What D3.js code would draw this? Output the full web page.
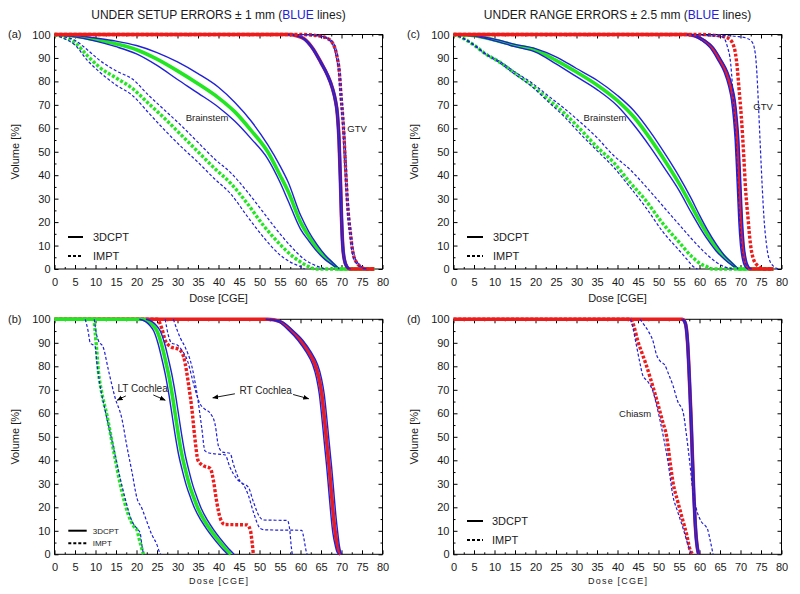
<!DOCTYPE html>
<html><head><meta charset="utf-8">
<script src="https://cdn.jsdelivr.net/npm/d3@7"></script>
<style>
body{margin:0;background:#fff}
svg{display:block;font-family:"Liberation Sans",Arial,Helvetica,sans-serif}
</style></head><body>
<svg id="chart" width="800" height="594"></svg>
<script>
// ---------- tick values ----------
const xTickValues = [0,5,10,15,20,25,30,35,40,45,50,55,60,65,70,75,80];
const yTickValues = [0,10,20,30,40,50,60,70,80,90,100];

// ---------- Panel (a): setup errors, Brainstem & GTV ----------
const a_gtv3d_nom = [[0,100],[57,100],[59,99.5],[61,98],[63,94],[65,88],[66.5,83],[67.8,77],[68.5,72],[69,66],[69.4,55],[69.7,40],[70,22],[70.3,10],[70.7,4],[71.3,1],[72,0],[78,0]];
const a_gtv3d_lo = [[56.8,100],[58.8,99.5],[60.8,98],[62.8,94],[64.8,88],[66.3,83],[67.6,77],[68.3,72],[68.8,66],[69.2,55],[69.5,40],[69.8,22],[70.1,10],[70.5,4],[71.1,1],[71.8,0]];
const a_gtv3d_hi = [[57.2,100],[59.2,99.5],[61.2,98],[63.2,94],[65.2,88],[66.7,83],[68,77],[68.7,72],[69.2,66],[69.6,55],[69.9,40],[70.2,22],[70.5,10],[70.9,4],[71.5,1],[72.2,0]];
const a_gtvimpt_nom = [[0,100],[60,100],[64,99.5],[66.5,98.4],[68.1,95.5],[68.9,90.6],[69.5,83.5],[69.9,73.5],[70.3,65],[70.6,57],[71,43],[71.4,30],[71.8,21],[72.2,15],[72.6,9],[73,5.4],[73.8,2.5],[74.7,1],[75.9,0],[78,0]];
const a_gtvimpt_lo = [[59.8,100],[63.8,99.5],[66.3,98.4],[67.9,95.5],[68.7,90.6],[69.3,83.5],[69.7,73.5],[70.1,65],[70.4,57],[70.8,43],[71.2,30],[71.6,21],[72,15],[72.4,9],[72.8,5.4],[73.6,2.5],[74.5,1],[75.7,0]];
const a_gtvimpt_hi = [[60.2,100],[64.2,99.5],[66.7,98.4],[68.3,95.5],[69.1,90.6],[69.7,83.5],[70.1,73.5],[70.5,65],[70.8,57],[71.2,43],[71.6,30],[72,21],[72.4,15],[72.8,9],[73.2,5.4],[74,2.5],[74.9,1],[76.1,0]];
const a_bs3d_nom = [[0,100],[5,99.3],[10,97.8],[15,96],[20,93.5],[25,89.5],[30,84.5],[35,79],[40,73],[44,67],[48,59],[52,50],[55,40],[57,33],[60,20],[62,14],[64,9],[66,5],[68,2],[69.3,0],[78,0]];
const a_bs3d_hi = [[0,100],[5,99.6],[10,98.5],[15,97.2],[20,95.3],[25,92.3],[30,88.3],[35,83.3],[40,77.5],[44,71],[48,63],[52,53],[55,44],[57,37],[60,23],[62,16],[64,10.5],[66,6],[68,2.5],[69.5,0]];
const a_bs3d_lo = [[0,100],[5,99],[10,97.2],[15,94.8],[20,91.7],[25,86.8],[30,80.8],[35,75],[40,69],[44,63],[48,55.5],[52,47],[55,37],[57,29],[60,17],[62,12],[64,7.5],[66,4],[68,1.5],[69.2,0]];
const a_bsimpt_nom = [[0,100],[2,99],[5,96.5],[8,91],[11,86],[15,81.5],[19,77],[23,70.5],[27,64],[31,57],[35,50],[39,43],[43,36.5],[47,28],[51,18.5],[55,10.5],[58,5.5],[60,3],[62,1],[63.5,0],[78,0]];
const a_bsimpt_hi = [[0,100],[2,99.3],[5,97.5],[8,93.5],[11,89],[15,84.5],[19,81],[23,74],[27,67.5],[31,61],[35,54],[39,47],[43,41],[47,33],[51,24],[55,15],[58,9],[61,4],[63,2],[66,0]];
const a_bsimpt_lo = [[0,100],[2,98.5],[5,95.5],[8,89],[11,84],[15,78.5],[19,74],[23,66.5],[27,59],[31,52],[35,45.5],[39,38.5],[43,32],[47,22.5],[51,13.5],[55,6],[58,2.5],[60,1],[61,0]];

// ---------- Panel (c): range errors, Brainstem & GTV ----------
const c_gtv3d_nom = [[0,100],[57,100],[59,99.3],[61,97.5],[63,94.5],[65,89],[66.5,84],[67.6,78],[68.3,72],[68.8,64],[69.2,55],[69.5,44],[69.8,32],[70.1,20],[70.5,10],[71,4],[71.6,1],[72.3,0],[78,0]];
const c_gtv3d_lo = [[56.5,100],[58.5,99.3],[60.5,97.5],[62.5,94.5],[64.5,89],[66,84],[67.1,78],[67.8,72],[68.3,64],[68.7,55],[69,44],[69.3,32],[69.6,20],[70,10],[70.5,4],[71.1,1],[71.8,0]];
const c_gtv3d_hi = [[57.4,100],[59.4,99.3],[61.4,97.5],[63.4,94.5],[65.4,89],[66.9,84],[68,78],[68.7,72],[69.2,64],[69.6,55],[69.9,44],[70.2,32],[70.5,20],[70.9,10],[71.4,4],[72,1],[72.7,0]];
const c_gtvimpt_nom = [[0,100],[60,100],[64,99.6],[67.1,98.3],[68.4,94.8],[69.2,86],[69.6,77.7],[70.2,65],[70.8,48],[71.2,35],[71.8,22.4],[72.4,11],[73.2,4],[74.4,1.1],[75.6,0],[78,0]];
const c_gtvimpt_lo = [[58,100],[62,99.5],[65.6,99],[66.8,94.8],[67.6,87.7],[68,79],[68.4,67.8],[68.9,53.6],[69.3,38],[69.7,23.8],[70.2,11],[70.9,4],[72.1,0.4],[72.9,0]];
const c_gtvimpt_hi = [[62,100],[66,99.6],[69,99.2],[71.2,98.6],[72.8,96.9],[73.6,92],[74,83.4],[74.4,69.2],[74.8,53.6],[75.3,35],[75.7,22.4],[76.3,11],[76.9,4.7],[78.1,1.1],[79.3,0]];
const c_bs3d_nom = [[0,100],[5,99.5],[10,97.7],[15,95.3],[20,93.3],[25,89],[30,84],[35,78.5],[40,71.8],[44,64.8],[48,55.5],[52,45],[55,36.5],[58,27],[60,20.5],[62,14.5],[64,9.3],[66,5.2],[68,2],[69.4,0],[78,0]];
const c_bs3d_hi = [[0,100],[5,99.6],[10,98],[15,95.8],[20,94],[25,90.5],[30,85.5],[35,80.5],[40,74],[44,67.5],[48,58.5],[52,48],[55,39.5],[58,30],[60,23],[62,16.5],[64,10.8],[66,6],[68,2.5],[69.5,0]];
const c_bs3d_lo = [[0,100],[5,99.3],[10,97.3],[15,94.8],[20,92.5],[25,87.5],[30,82],[35,76.5],[40,69.5],[44,61.4],[48,52],[52,41.6],[55,33.5],[58,24],[60,18],[62,12.5],[64,7.8],[66,4.3],[68,1.5],[69.3,0]];
const c_bsimpt_nom = [[0,100],[2,98.7],[5,95.5],[8,91.5],[11,88.5],[15,83.5],[19,78.5],[23,72.5],[27,66.5],[31,59.5],[35,52],[39,45.5],[43,37],[47,29],[51,19.5],[55,11.5],[58,5.5],[60,2.5],[62,0.8],[63,0],[78,0]];
const c_bsimpt_hi = [[0,100],[2,98.8],[5,95.7],[8,91.7],[11,88.8],[15,84],[19,79.5],[23,74],[27,68.5],[31,62.5],[35,56],[39,48.5],[43,42.5],[47,35],[51,27],[55,19],[58,13],[61,7.5],[64,3],[66,1],[68,0]];
const c_bsimpt_lo = [[0,100],[2,98.6],[5,95.3],[8,91.3],[11,88.2],[15,83],[19,78],[23,71.5],[27,65],[31,57.5],[35,50.5],[39,43.5],[43,35],[47,26],[51,16],[55,8],[57,4],[58.5,1],[59.5,0]];

// ---------- Panel (b): setup errors, LT & RT Cochlea ----------
const b_rt3d_nom = [[0,100],[52,100],[55,99],[57.5,95.5],[60,91],[62,86],[63.5,81],[64.5,75],[65.2,68],[65.7,60],[66.1,53],[66.6,44],[67,37],[67.5,27],[68,17],[68.5,9],[69,3.5],[69.4,1],[69.8,0]];
const b_rt3d_lo = [[51.5,100],[54.5,99],[57,95.5],[59.4,91],[61.4,86],[62.9,81],[63.9,75],[64.6,68],[65.1,60],[65.5,53],[66,44],[66.4,37],[66.9,27],[67.4,17],[67.9,9],[68.5,3.5],[68.9,1],[69.4,0]];
const b_rt3d_hi = [[52.5,100],[55.5,99],[58,95.5],[60.6,91],[62.6,86],[64.1,81],[65.1,75],[65.8,68],[66.3,60],[66.7,53],[67.2,44],[67.6,37],[68.1,27],[68.6,17],[69.1,9],[69.5,3.5],[69.8,1],[70.1,0]];
const b_lt3d_nom = [[0,100],[21.5,100],[23,99],[24,97.5],[25,95],[26,90],[27,83],[28,75],[28.8,67],[29.5,59],[30.2,51],[31,43],[32,35.5],[33,29],[34,24],[35,19.5],[36.5,14.5],[38,10.5],[39.5,7],[41,3.8],[42,1.8],[43,0]];
const b_lt3d_lo = [[20.7,100],[22.2,99],[23.2,97.5],[24.2,95],[25.2,90],[26.2,83],[27.2,75],[28,67],[28.7,59],[29.4,51],[30.2,43],[31.2,35.5],[32.2,29],[33.2,24],[34.2,19.5],[35.7,14.5],[37.2,10.5],[38.7,7],[40.2,3.8],[41.2,1.8],[42.2,0]];
const b_lt3d_hi = [[22.3,100],[23.8,99],[24.8,97.5],[25.8,95],[26.8,90],[27.8,83],[28.8,75],[29.6,67],[30.3,59],[31,51],[31.8,43],[32.8,35.5],[33.8,29],[34.8,24],[35.8,19.5],[37.3,14.5],[38.8,10.5],[40.3,7],[41.8,3.8],[42.8,1.8],[43.8,0]];
const b_rtimpt_nom = [[0,100],[25,100],[26.2,96],[27,91],[28.2,88.5],[30.5,87],[31.5,84],[32.2,78],[32.8,71],[33.5,62],[34.2,50],[35,40],[36,38],[38,36.5],[38.8,31],[39.5,23],[40.5,15],[41.5,12.7],[47,12.5],[47.8,10],[48.2,5],[48.5,0]];
const b_rtimpt_lo = [[27,100],[27.8,93],[28.5,90],[30,89],[31,87],[32.5,82],[34,72],[35.5,64],[36.5,62],[38,60],[39.2,55],[40,46],[41,43.5],[42.8,43],[43.7,38],[45.3,31],[47.3,28.5],[48.5,22.4],[50,16],[51,14.6],[56.8,14.4],[57.4,10],[57.7,4],[58,0]];
const b_rtimpt_hi = [[29,100],[30,95],[30.7,92],[31.9,88],[33.5,80],[34.7,69],[35.9,54],[36.7,44],[38,43],[41.6,42.3],[42.8,37],[44.5,32],[46.1,29.5],[47.3,25],[48.5,18],[50.2,11],[51.4,10.4],[60.3,10.2],[60.9,6],[61.3,2],[61.6,0]];
const b_ltimpt_nom = [[0,100],[9.6,100],[9.9,95],[10.2,89],[10.7,78],[11.5,69],[12.8,59],[14,48],[15.2,37],[16.4,27],[18,17],[19.3,12],[20.1,10.4],[20.6,7],[21.2,3],[21.7,0]];
const b_ltimpt_lo = [[7.5,100],[8.2,95],[8.7,90],[9.9,88.5],[10.3,82],[11.1,72],[12.4,61],[14,48.5],[15.6,35.5],[17.2,24],[18.9,14],[20.1,11],[20.9,9],[21.3,4],[21.7,0]];
const b_ltimpt_hi = [[9.7,100],[10.2,94],[10.7,91],[11.9,88],[13.2,78],[14.8,66.5],[16.4,58],[17.6,46.5],[18.9,35],[20.1,24],[21.3,19.6],[22.5,14],[23.7,8.5],[25,4],[25.6,1],[25.9,0]];

// ---------- Panel (d): range errors, Chiasm ----------
const d_ch3d_nom = [[0,100],[55.8,100],[56.4,99],[56.8,96],[57.1,90],[57.4,80],[57.7,68],[58,55],[58.3,40],[58.6,26],[58.9,15],[59.2,7],[59.5,2.5],[59.8,0]];
const d_ch3d_lo = [[55.6,100],[56.2,99],[56.6,96],[56.9,90],[57.2,80],[57.5,68],[57.8,55],[58.1,40],[58.4,26],[58.7,15],[59,7],[59.3,2.5],[59.6,0]];
const d_ch3d_hi = [[56,100],[56.6,99],[57,96],[57.3,90],[57.6,80],[57.9,68],[58.2,55],[58.5,40],[58.8,26],[59.1,15],[59.4,7],[59.7,2.5],[60,0]];
const d_chimpt_nom = [[0,100],[43.3,100],[44,97],[45,90.5],[46,85.5],[47,80.6],[48,75],[49,69.2],[50,63],[51,56.5],[52,50],[53,37],[53.5,31],[54.7,22.4],[56,14],[56.9,8.2],[57.6,2.5],[58.4,0]];
const d_chimpt_lo = [[43.2,100],[43.8,96],[44.6,89],[45.4,82],[46.2,76],[47.4,73.5],[48.7,69],[49.9,60.7],[51.1,50.8],[52.3,39.4],[53.5,25],[54.7,18],[56,11],[57.2,4],[58,0]];
const d_chimpt_hi = [[45.5,100],[46.2,98.3],[47.5,95],[48.7,90.5],[49.5,85],[50.5,82],[51.5,80.6],[52.5,76.5],[53.5,72],[54.7,65],[56,60.5],[56.8,51],[57.6,39.4],[58.4,26.7],[59.2,19.6],[60.4,14],[61.5,12],[62,10.5],[62.6,6],[63.3,0]];

// ---------- labels ----------
const panelLetters = ["(a)","(b)","(c)","(d)"];
const legendLabels = ["3DCPT","IMPT"];
const titleLeft = ["UNDER SETUP ERRORS \u00b1 1 mm (","BLUE"," lines)"];
const titleRight = ["UNDER RANGE ERRORS \u00b1 2.5 mm (","BLUE"," lines)"];

// ---------- styles ----------
const BLUE = "#2020d8", GREEN = "#22e622", RED = "#ee1b1b";
const FONT_TICK = 11;

const svg = d3.select("#chart");
const defs = svg.append("defs");
defs.append("marker").attr("id","arrow").attr("viewBox","0 0 10 10")
  .attr("refX",9).attr("refY",5).attr("markerWidth",6).attr("markerHeight",6)
  .attr("markerUnits","userSpaceOnUse").attr("orient","auto")
  .append("path").attr("d","M0,1 L10,5 L0,9 Z").attr("fill","#000");

const S = {
  nom:     (c)=>({color:c, w:3.6, dash:null}),
  nomDash: (c)=>({color:c, w:3.4, dash:"3,1.8"}),
  varS:    ()=>({color:BLUE, w:1.4, dash:null}),
  varD:    ()=>({color:BLUE, w:1.2, dash:"3,2"})
};

const panels = [
  { letter:panelLetters[0], left:54.5, right:382.5, top:34.5, bottom:269,
    title:titleLeft, legend:{y:[237,256], x0:68, x1:83, tx:93, small:false},
    doseSmall:false,
    curves:[
      [a_bs3d_nom,S.nom(GREEN)],[a_bs3d_hi,S.varS()],[a_bs3d_lo,S.varS()],
      [a_bsimpt_nom,S.nomDash(GREEN)],[a_bsimpt_hi,S.varD()],[a_bsimpt_lo,S.varD()],
      [a_gtv3d_nom,S.nom(RED)],[a_gtv3d_lo,S.varS()],[a_gtv3d_hi,S.varS()],
      [a_gtvimpt_nom,S.nomDash(RED)],[a_gtvimpt_lo,S.varD()],[a_gtvimpt_hi,S.varD()]
    ],
    notes:[["Brainstem",37.2,64.4,9.5],["GTV",73.8,59.7,9.5]], arrows:[] },
  { letter:panelLetters[2], left:453.5, right:781.5, top:34.5, bottom:269,
    title:titleRight, legend:{y:[237,256], x0:467, x1:483, tx:493, small:false},
    doseSmall:false,
    curves:[
      [c_bs3d_nom,S.nom(GREEN)],[c_bs3d_hi,S.varS()],[c_bs3d_lo,S.varS()],
      [c_bsimpt_nom,S.nomDash(GREEN)],[c_bsimpt_hi,S.varD()],[c_bsimpt_lo,S.varD()],
      [c_gtv3d_nom,S.nom(RED)],[c_gtv3d_lo,S.varS()],[c_gtv3d_hi,S.varS()],
      [c_gtvimpt_nom,S.nomDash(RED)],[c_gtvimpt_lo,S.varD()],[c_gtvimpt_hi,S.varD()]
    ],
    notes:[["Brainstem",36.95,64.4,9.5],["GTV",75.5,69.1,9.5]], arrows:[] },
  { letter:panelLetters[1], left:54.5, right:382.5, top:319.3, bottom:554.3,
    title:null, legend:{y:[530.7,543.3], x0:68.3, x1:86.7, tx:92.7, small:true},
    doseSmall:true,
    curves:[
      [b_rt3d_nom,S.nom(RED)],[b_rtimpt_nom,S.nomDash(RED)],
      [b_lt3d_nom,S.nom(GREEN)],[b_ltimpt_nom,S.nomDash(GREEN)],
      [b_rt3d_lo,S.varS()],[b_rt3d_hi,S.varS()],
      [b_lt3d_lo,S.varS()],[b_lt3d_hi,S.varS()],
      [b_rtimpt_lo,S.varD()],[b_rtimpt_hi,S.varD()],
      [b_ltimpt_lo,S.varD()],[b_ltimpt_hi,S.varD()]
    ],
    notes:[["LT Cochlea",21.5,70.4,10],["RT Cochlea",51.5,69.5,10]],
    arrows:[[17.4,67.4,15.3,65.6],[24.1,67.8,27.0,65.6],[44.0,68.3,38.6,66.6],[58.2,68.0,62.0,66.2]] },
  { letter:panelLetters[3], left:453.5, right:781.5, top:319.3, bottom:554.3,
    title:null, legend:{y:[521,540], x0:467, x1:483, tx:492, small:false},
    doseSmall:true,
    curves:[
      [d_chimpt_nom,S.nomDash(RED)],[d_ch3d_nom,S.nom(RED)],
      [d_chimpt_lo,S.varD()],[d_chimpt_hi,S.varD()],
      [d_ch3d_lo,S.varS()],[d_ch3d_hi,S.varS()]
    ],
    notes:[["Chiasm",44.3,59.7,9.5]], arrows:[] }
];

function mids(arr){ return d3.pairs(arr).map(([a,b])=>(a+b)/2); }

panels.forEach(p=>{
  const x = d3.scaleLinear().domain([0,80]).range([p.left,p.right]);
  const y = d3.scaleLinear().domain([0,100]).range([p.bottom,p.top]);
  const g = svg.append("g");

  // frame
  g.append("rect").attr("x",p.left).attr("y",p.top)
    .attr("width",p.right-p.left).attr("height",p.bottom-p.top)
    .attr("fill","none").attr("stroke","#000").attr("stroke-width",1);

  // axes (inward ticks on all four sides)
  const styleAxis = sel=>{ sel.select(".domain").remove();
    sel.selectAll("line").attr("stroke","#000");
    sel.selectAll("text").attr("font-size",FONT_TICK).attr("fill","#1a1a1a")
      .attr("font-family","'Liberation Sans',Arial,sans-serif"); };
  g.append("g").attr("transform",`translate(0,${p.bottom})`)
    .call(d3.axisBottom(x).tickValues(xTickValues).tickSize(-4).tickPadding(9)).call(styleAxis);
  g.append("g").attr("transform",`translate(0,${p.bottom})`)
    .call(d3.axisBottom(x).tickValues(mids(xTickValues)).tickSize(-2).tickFormat("")).call(styleAxis);
  g.append("g").attr("transform",`translate(0,${p.top})`)
    .call(d3.axisTop(x).tickValues(xTickValues).tickSize(-4).tickFormat("")).call(styleAxis);
  g.append("g").attr("transform",`translate(0,${p.top})`)
    .call(d3.axisTop(x).tickValues(mids(xTickValues)).tickSize(-2).tickFormat("")).call(styleAxis);
  g.append("g").attr("transform",`translate(${p.left},0)`)
    .call(d3.axisLeft(y).tickValues(yTickValues).tickSize(-4).tickPadding(4)).call(styleAxis);
  g.append("g").attr("transform",`translate(${p.left},0)`)
    .call(d3.axisLeft(y).tickValues(mids(yTickValues)).tickSize(-2).tickFormat("")).call(styleAxis);
  g.append("g").attr("transform",`translate(${p.right},0)`)
    .call(d3.axisRight(y).tickValues(yTickValues).tickSize(-4).tickFormat("")).call(styleAxis);
  g.append("g").attr("transform",`translate(${p.right},0)`)
    .call(d3.axisRight(y).tickValues(mids(yTickValues)).tickSize(-2).tickFormat("")).call(styleAxis);

  // curves
  const line = d3.line().x(d=>x(d[0])).y(d=>y(d[1])).curve(d3.curveMonotoneX);
  p.curves.forEach(([data,st])=>{
    g.append("path").attr("d",line(data)).attr("fill","none")
      .attr("stroke",st.color).attr("stroke-width",st.w)
      .attr("stroke-linejoin","round")
      .attr("stroke-dasharray",st.dash);
  });

  // notes & arrows
  p.notes.forEach(([t,dx,dy,fs])=>{
    g.append("text").attr("x",x(dx)).attr("y",y(dy)).attr("dy","0.35em")
      .attr("text-anchor","middle").attr("font-size",fs).attr("fill","#222").text(t);
  });
  p.arrows.forEach(([x1,y1,x2,y2])=>{
    g.append("line").attr("x1",x(x1)).attr("y1",y(y1)).attr("x2",x(x2)).attr("y2",y(y2))
      .attr("stroke","#000").attr("stroke-width",0.9).attr("marker-end","url(#arrow)");
  });

  // panel letter
  g.append("text").attr("x",p.left-46.5).attr("y",p.top).attr("dy","0.35em")
    .attr("font-size",11).attr("fill","#1a1a1a").text(p.letter);

  // y label
  const cy = (p.top+p.bottom)/2;
  g.append("text").attr("transform",`translate(${p.left-39.5},${cy}) rotate(-90)`)
    .attr("text-anchor","middle").attr("dy","0.35em").attr("font-size",11)
    .attr("fill","#1a1a1a").text("Volume [%]");

  // x label
  const cx = (p.left+p.right)/2;
  if(p.doseSmall){
    g.append("text").attr("x",cx).attr("y",p.bottom+27).attr("dy","0.35em")
      .attr("text-anchor","middle").attr("font-size",9).attr("textLength",59)
      .attr("lengthAdjust","spacing").attr("fill","#1a1a1a").text("Dose [CGE]");
  } else {
    g.append("text").attr("x",cx).attr("y",p.bottom+29).attr("dy","0.35em")
      .attr("text-anchor","middle").attr("font-size",11).attr("fill","#1a1a1a").text("Dose [CGE]");
  }

  // title
  if(p.title){
    const t = g.append("text").attr("x",cx).attr("y",19).attr("text-anchor","middle")
      .attr("font-size",12).attr("fill","#1a1a1a");
    t.append("tspan").text(p.title[0]);
    t.append("tspan").attr("fill",BLUE).text(p.title[1]);
    t.append("tspan").text(p.title[2]);
  }

  // legend
  const L = p.legend;
  legendLabels.forEach((lab,i)=>{
    g.append("line").attr("x1",L.x0).attr("x2",L.x1).attr("y1",L.y[i]).attr("y2",L.y[i])
      .attr("stroke","#000").attr("stroke-width",2)
      .attr("stroke-dasharray", i===1 ? "3,2" : null);
    g.append("text").attr("x",L.tx).attr("y",L.y[i]).attr("dy","0.35em")
      .attr("fill","#1a1a1a").attr("font-size", L.small ? 8 : 11).text(lab);
  });
});
</script>
</body></html>
